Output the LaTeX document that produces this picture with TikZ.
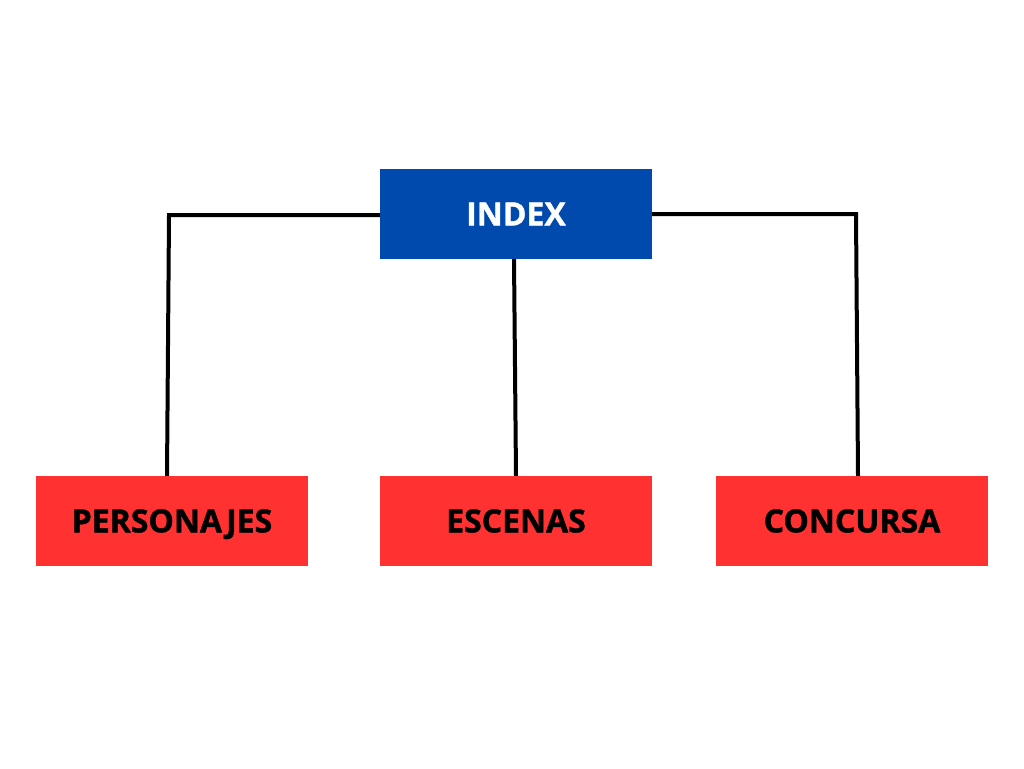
\documentclass[tikz,border=0pt]{standalone}
\usepackage{fontspec}
\setmainfont{Open Sans}[BoldFeatures={FakeBold=1.2}]
\definecolor{indexblue}{HTML}{004AAD}
\definecolor{boxred}{HTML}{FF3131}
\begin{document}
\begin{tikzpicture}[x=1pt,y=-1pt,
  box/.style={rectangle, minimum width=272pt, minimum height=90pt, inner sep=0pt,
    text height=22.8pt, text depth=0pt,
    font=\fontsize{32}{38}\selectfont\bfseries},
  topbox/.style={box, fill=indexblue, text=white},
  leafbox/.style={box, fill=boxred, text=black},
  link/.style={draw=black, line width=4pt}]
  \useasboundingbox (0,0) rectangle (1024,768);
  \node[topbox]  (index) at (516,214) {INDEX};
  \node[leafbox] (pers)  at (172,521) {PERSONAJES};
  \node[leafbox] (esc)   at (516,521) {ESCENAS};
  \node[leafbox] (conc)  at (852,521) {CONCURSA};
  \coordinate (lc) at (169,215);
  \coordinate (rc) at (856,214);
  \draw[link] (index.west |- lc) -- (lc) -- (pers.north -| 167,0);
  \draw[link] (index.south -| 514,0) -- (esc.north -| 516,0);
  \draw[link] (index.east |- rc) -- (rc) -- (conc.north -| 858,0);
\end{tikzpicture}
\end{document}
